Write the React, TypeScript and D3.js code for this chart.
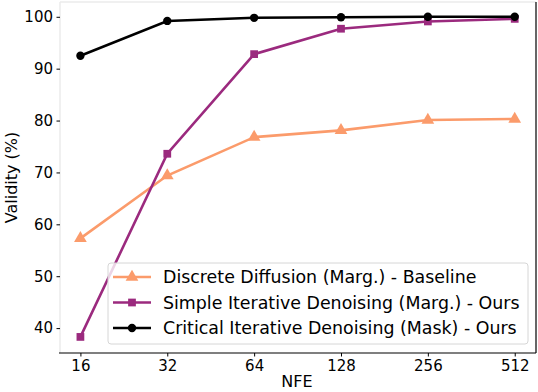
import React, { useEffect, useRef } from 'react';
import * as d3 from 'd3';

const nfe = [16, 32, 64, 128, 256, 512];
const discreteDiffusion = [57.3, 69.4, 76.8, 78.1, 80.1, 80.3];
const simpleIterative = [38.3, 73.6, 92.8, 97.7, 99.1, 99.6];
const criticalIterative = [92.5, 99.2, 99.8, 99.9, 100.0, 100.0];
const yTicks = [40, 50, 60, 70, 80, 90, 100];
const seriesNames = [
  'Discrete Diffusion (Marg.) - Baseline',
  'Simple Iterative Denoising (Marg.) - Ours',
  'Critical Iterative Denoising (Mask) - Ours',
];

const App = () => {
  const svgRef = useRef(null);

  useEffect(() => {
    const svg = d3.select(svgRef.current);
    svg.selectAll('*').remove();

    const margin = { top: 2, right: 2, bottom: 39, left: 60 };
    const width = 538;
    const height = 392;
    const innerWidth = width - margin.left - margin.right;
    const innerHeight = height - margin.top - margin.bottom;
    const font = 'DejaVu Sans, sans-serif';

    const g = svg.append('g').attr('transform', `translate(${margin.left},${margin.top})`);

    const x = d3.scaleLog().base(2).domain([Math.pow(2, 3.765), Math.pow(2, 9.245)]).range([0, innerWidth]);
    const y = d3.scaleLinear().domain([35.2, 102.85]).range([innerHeight, 0]);

    // frame: light top/left, dark right/bottom
    g.append('line').attr('x1', 0).attr('x2', innerWidth).attr('y1', 0).attr('y2', 0)
      .attr('stroke', '#ebebeb').attr('stroke-width', 1.5);
    g.append('line').attr('x1', 0).attr('x2', 0).attr('y1', 0).attr('y2', innerHeight)
      .attr('stroke', '#ebebeb').attr('stroke-width', 1.5);
    g.append('line').attr('x1', innerWidth).attr('x2', innerWidth).attr('y1', 0).attr('y2', innerHeight)
      .attr('stroke', '#000').attr('stroke-width', 1.2);
    g.append('line').attr('x1', -1).attr('x2', innerWidth).attr('y1', innerHeight).attr('y2', innerHeight)
      .attr('stroke', '#000').attr('stroke-width', 1.2);

    // axes
    const xAxis = g.append('g').attr('transform', `translate(0,${innerHeight})`)
      .call(d3.axisBottom(x).tickValues(nfe).tickFormat(d => String(d)).tickSize(3.5).tickPadding(3.5));
    xAxis.select('.domain').remove();
    xAxis.selectAll('text').attr('font-size', 15).attr('font-family', font).attr('fill', '#000');

    const yAxis = g.append('g')
      .call(d3.axisLeft(y).tickValues(yTicks).tickSize(3.5).tickPadding(3.5));
    yAxis.select('.domain').remove();
    yAxis.selectAll('text').attr('font-size', 15).attr('font-family', font).attr('fill', '#000');

    svg.append('text')
      .attr('x', 297).attr('y', 387)
      .attr('text-anchor', 'middle').attr('font-size', 16).attr('font-family', font)
      .text('NFE');

    svg.append('text')
      .attr('transform', `translate(17,${margin.top + innerHeight / 2}) rotate(-90)`)
      .attr('text-anchor', 'middle').attr('font-size', 16).attr('font-family', font)
      .text('Validity (%)');

    const series = [
      { name: seriesNames[0], values: discreteDiffusion, color: '#fb9b6b', marker: 'triangle' },
      { name: seriesNames[1], values: simpleIterative, color: '#9b2a7e', marker: 'square' },
      { name: seriesNames[2], values: criticalIterative, color: '#000000', marker: 'circle' },
    ];

    const symbolFor = (m) =>
      m === 'triangle' ? d3.symbolTriangle : m === 'square' ? d3.symbolSquare : d3.symbolCircle;
    const symbolSize = (m) => (m === 'circle' ? 55 : m === 'square' ? 60 : 70);

    const line = d3.line().x((d, i) => x(nfe[i])).y(d => y(d));

    series.forEach(s => {
      g.append('path').datum(s.values)
        .attr('fill', 'none').attr('stroke', s.color).attr('stroke-width', 2.6)
        .attr('d', line);
      g.selectAll(null).data(s.values).enter().append('path')
        .attr('transform', (d, i) => `translate(${x(nfe[i])},${y(d)})`)
        .attr('d', d3.symbol().type(symbolFor(s.marker)).size(symbolSize(s.marker))())
        .attr('fill', s.color);
    });

    // legend
    const legend = svg.append('g').attr('transform', 'translate(108,263)');
    legend.append('rect')
      .attr('width', 420).attr('height', 81).attr('rx', 3)
      .attr('fill', 'white').attr('fill-opacity', 0.8)
      .attr('stroke', '#d6d6d6').attr('stroke-width', 1);

    series.forEach((s, i) => {
      const row = legend.append('g').attr('transform', `translate(0,${14 + i * 25.5})`);
      row.append('line').attr('x1', 5).attr('x2', 43).attr('y1', 0).attr('y2', 0)
        .attr('stroke', s.color).attr('stroke-width', 2.6);
      row.append('path').attr('transform', 'translate(24,0)')
        .attr('d', d3.symbol().type(symbolFor(s.marker)).size(symbolSize(s.marker))())
        .attr('fill', s.color);
      row.append('text').attr('x', 55).attr('y', 6)
        .attr('font-size', 17.4).attr('font-family', font).attr('fill', '#000')
        .text(s.name);
    });
  }, []);

  return (
    <svg ref={svgRef} width={538} height={392}
      style={{ position: 'absolute', left: 0, top: 0, background: 'white' }} />
  );
};

export default App;
